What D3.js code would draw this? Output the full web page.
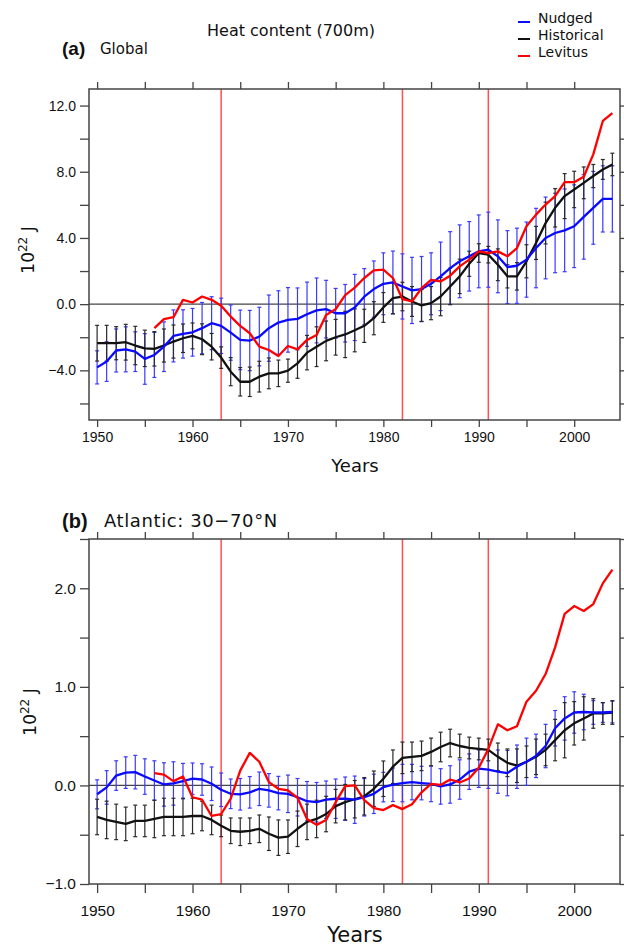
<!DOCTYPE html>
<html>
<head>
<meta charset="utf-8">
<script src="https://cdn.jsdelivr.net/npm/d3@7"></script>
<style>
  body { margin: 0; background: #fff; }
  text { font-family: "DejaVu Sans", sans-serif; fill: #111; }
  .tick text { font-family: "Liberation Sans", Arial, sans-serif; fill: #111; }
</style>
</head>
<body>
<svg id="chart" width="624" height="948"></svg>
<script>
// years of the model runs and of the Levitus observations
var years = d3.range(1950, 2005);
var levYears = d3.range(1956, 2005);
// volcanic eruptions (Agung, El Chichon, Pinatubo)
var eruptions = [1963, 1982, 1991];

// (a) Global, 10^22 J
var nudgedA = [-3.82, -3.47, -2.8, -2.73, -2.87, -3.31, -3.07, -2.57, -1.92, -1.8,
  -1.7, -1.45, -1.15, -1.31, -1.72, -2.16, -2.2, -1.96, -1.45, -1.11,
  -0.95, -0.89, -0.61, -0.38, -0.3, -0.55, -0.55, -0.2, 0.45, 0.91,
  1.23, 1.31, 1.07, 0.83, 0.91, 1.23, 1.68, 2.18, 2.59, 2.89,
  3.19, 3.29, 2.89, 2.24, 2.32, 2.69, 3.39, 4.0, 4.3, 4.46,
  4.71, 5.27, 5.82, 6.36, 6.36];
var nudgedErrA = [1.0, 1.2, 1.3, 1.36, 1.2, 1.53, 1.36, 1.5, 1.57, 1.46,
  1.44, 1.55, 1.6, 1.67, 1.67, 1.8, 1.82, 1.77, 2.0, 1.92,
  1.95, 1.87, 1.94, 1.96, 1.74, 1.5, 1.74, 2.0, 1.7, 1.7,
  1.87, 1.9, 1.97, 2.0, 1.97, 1.87, 2.07, 2.2, 2.2, 2.1,
  2.2, 2.27, 2.2, 2.2, 2.27, 2.27, 2.4, 2.47, 2.4, 2.5,
  2.5, 2.55, 2.2, 2.0, 2.0];
var histA = [-2.36, -2.36, -2.36, -2.3, -2.5, -2.67, -2.7, -2.5, -2.26, -2.06,
  -1.92, -2.12, -2.57, -3.23, -4.08, -4.69, -4.69, -4.38, -4.18, -4.18,
  -4.02, -3.58, -2.93, -2.57, -2.22, -2.0, -1.83, -1.58, -1.31, -0.85,
  -0.2, 0.36, 0.46, 0.16, -0.08, 0.06, 0.46, 1.07, 1.68, 2.44,
  3.09, 2.99, 2.38, 1.68, 1.68, 2.59, 3.7, 4.9, 5.82, 6.53,
  6.93, 7.33, 7.74, 8.14, 8.44];
var histErrA = [1.08, 1.08, 1.0, 1.08, 1.16, 1.1, 1.04, 1.0, 1.0, 0.86,
  0.78, 0.93, 0.8, 0.65, 0.85, 0.86, 0.89, 0.93, 0.93, 0.8,
  0.7, 0.9, 1.04, 1.2, 1.2, 1.08, 1.4, 1.3, 1.0, 1.0,
  0.9, 0.94, 0.86, 0.9, 0.96, 1.0, 1.16, 1.1, 1.04, 0.76,
  0.56, 0.5, 0.96, 0.7, 0.83, 1.0, 1.0, 1.26, 1.16, 1.36,
  1.1, 0.96, 0.7, 0.6, 0.68];
var levA = [-1.45, -0.91, -0.79, 0.26,
  0.1, 0.46, 0.26, -0.1, -0.75, -1.31, -1.76, -2.57, -2.77, -3.13,
  -2.53, -2.73, -2.16, -1.86, -0.65, -0.3, 0.55, 1.0, 1.58, 2.04,
  2.08, 1.58, 0.3, 0.16, 0.97, 1.47, 1.37, 1.72, 2.28, 2.69,
  3.19, 3.09, 3.19, 2.89, 3.39, 4.71, 5.41, 6.02, 6.53, 7.37,
  7.37, 7.7, 9.05, 11.07, 11.54];

// (b) Atlantic 30-70N, 10^22 J
var nudgedB = [-0.09, -0.02, 0.1, 0.13, 0.135, 0.09, 0.05, 0.01, 0.02, 0.044,
  0.068, 0.06, 0.017, -0.044, -0.085, -0.09, -0.07, -0.034, -0.05, -0.078,
  -0.085, -0.12, -0.16, -0.17, -0.145, -0.135, -0.135, -0.145, -0.12, -0.085,
  -0.017, 0.007, 0.024, 0.034, 0.024, 0.015, -0.01, 0.01, 0.06, 0.14,
  0.17, 0.16, 0.14, 0.125, 0.19, 0.24, 0.3, 0.4, 0.58, 0.68,
  0.74, 0.745, 0.74, 0.74, 0.745];
var nudgedErrB = [0.147, 0.17, 0.15, 0.16, 0.17, 0.18, 0.2, 0.22, 0.22, 0.18,
  0.16, 0.16, 0.17, 0.17, 0.15, 0.16, 0.16, 0.17, 0.17, 0.17,
  0.19, 0.19, 0.2, 0.2, 0.19, 0.2, 0.22, 0.24, 0.19, 0.2,
  0.15, 0.17, 0.19, 0.18, 0.17, 0.18, 0.18, 0.19, 0.2, 0.18,
  0.19, 0.19, 0.22, 0.23, 0.22, 0.24, 0.22, 0.22, 0.18, 0.22,
  0.21, 0.18, 0.12, 0.1, 0.11];
var histB = [-0.32, -0.35, -0.37, -0.39, -0.36, -0.36, -0.34, -0.32, -0.32, -0.32,
  -0.31, -0.31, -0.35, -0.41, -0.46, -0.47, -0.46, -0.44, -0.49, -0.53,
  -0.52, -0.44, -0.37, -0.34, -0.29, -0.21, -0.17, -0.14, -0.11, -0.034,
  0.068, 0.19, 0.28, 0.29, 0.3, 0.34, 0.39, 0.43, 0.4, 0.38,
  0.37, 0.36, 0.29, 0.23, 0.2, 0.24, 0.29, 0.36, 0.46, 0.56,
  0.63, 0.68, 0.73, 0.73, 0.74];
var histErrB = [0.18, 0.19, 0.18, 0.17, 0.16, 0.16, 0.19, 0.19, 0.19, 0.19,
  0.18, 0.15, 0.15, 0.11, 0.13, 0.14, 0.13, 0.14, 0.17, 0.18,
  0.17, 0.18, 0.18, 0.19, 0.18, 0.17, 0.18, 0.19, 0.19, 0.18,
  0.18, 0.17, 0.16, 0.15, 0.15, 0.14, 0.15, 0.14, 0.12, 0.11,
  0.11, 0.11, 0.14, 0.14, 0.17, 0.16, 0.18, 0.16, 0.21, 0.28,
  0.22, 0.22, 0.15, 0.11, 0.12];
var levB = [0.125, 0.11, 0.044, 0.09,
  -0.12, -0.145, -0.31, -0.29, -0.135, 0.15, 0.33, 0.24, 0.034, -0.034,
  -0.05, -0.125, -0.34, -0.4, -0.35, -0.17, -0.007, 0.0, -0.15, -0.23,
  -0.25, -0.2, -0.24, -0.19, -0.07, 0.015, 0.005, 0.06, 0.03, 0.07,
  0.18, 0.37, 0.62, 0.56, 0.6, 0.85, 0.96, 1.13, 1.4, 1.74,
  1.82, 1.77, 1.84, 2.05, 2.19];

var xTicks = d3.range(1950, 2001, 5);
var xLabels = [1950, 1960, 1970, 1980, 1990, 2000];

var legendNames = ["Nudged", "Historical", "Levitus"];
var legendColors = ["#0a0aff", "#111", "#ff0000"];

var svg = d3.select("#chart");
var fmt = d3.format(".1f");

function drawPanel(p) {
  var x = d3.scaleLinear().domain([1949.15, 2004.8]).range([p.left, p.right]);
  var y = d3.scaleLinear().domain(p.yDomain).range([p.bottom, p.top]);
  var g = svg.append("g");

  g.selectAll("line.erupt")
    .data(eruptions)
    .enter()
    .append("line")
    .attr("class", "erupt")
    .attr("x1", function (d) { return x(d); })
    .attr("x2", function (d) { return x(d); })
    .attr("y1", p.top)
    .attr("y2", p.bottom)
    .attr("stroke", "#ff5050")
    .attr("stroke-width", 1.5);

  g.append("line")
    .attr("x1", p.left).attr("x2", p.right)
    .attr("y1", y(0)).attr("y2", y(0))
    .attr("stroke", "#444")
    .attr("stroke-width", 1.3);

  function errBars(vals, errs, color) {
    var bars = g.append("g")
      .selectAll("g")
      .data(vals)
      .enter()
      .append("g")
      .attr("stroke", color)
      .attr("stroke-width", 1.2);
    bars.append("line")
      .attr("x1", function (d, i) { return x(years[i]); })
      .attr("x2", function (d, i) { return x(years[i]); })
      .attr("y1", function (d, i) { return y(d - errs[i]); })
      .attr("y2", function (d, i) { return y(d + errs[i]); });
    [-1, 1].forEach(function (s) {
      bars.append("line")
        .attr("x1", function (d, i) { return x(years[i]) - 2; })
        .attr("x2", function (d, i) { return x(years[i]) + 2; })
        .attr("y1", function (d, i) { return y(d + s * errs[i]); })
        .attr("y2", function (d, i) { return y(d + s * errs[i]); });
    });
  }
  errBars(p.nudged, p.nudgedErr, "#3a3aff");
  errBars(p.hist, p.histErr, "#2a2a2a");

  function series(xs, vals, color) {
    var line = d3.line()
      .x(function (d, i) { return x(xs[i]); })
      .y(function (d) { return y(d); });
    g.append("path")
      .datum(vals)
      .attr("d", line)
      .attr("fill", "none")
      .attr("stroke", color)
      .attr("stroke-width", 2.3)
      .attr("stroke-linejoin", "round");
  }
  series(years, p.hist, legendColors[1]);
  series(years, p.nudged, legendColors[0]);
  series(levYears, p.lev, legendColors[2]);

  g.append("rect")
    .attr("x", p.left).attr("y", p.top)
    .attr("width", p.right - p.left).attr("height", p.bottom - p.top)
    .attr("fill", "none")
    .attr("stroke", "#444")
    .attr("stroke-width", 1.5);

  function styleAxis(sel, size) {
    sel.select(".domain").remove();
    sel.selectAll(".tick line").attr("stroke", "#444").attr("stroke-width", 1.3);
    sel.selectAll(".tick text").style("font-size", size + "px");
  }

  var left = g.append("g")
    .attr("transform", "translate(" + p.left + ",0)")
    .call(d3.axisLeft(y).tickValues(p.yTicks).tickSize(9).tickPadding(4)
      .tickFormat(function (d) { return p.yLabels.indexOf(d) >= 0 ? fmt(d) : ""; }));
  styleAxis(left, p.tickFont);

  var right = g.append("g")
    .attr("transform", "translate(" + p.right + ",0)")
    .call(d3.axisRight(y).tickValues(p.yTicks).tickSize(5).tickFormat(""));
  styleAxis(right, p.tickFont);

  var bottom = g.append("g")
    .attr("transform", "translate(0," + p.bottom + ")")
    .call(d3.axisBottom(x).tickValues(xTicks).tickSize(p.xTickLen).tickPadding(p.xPad)
      .tickFormat(function (d) { return xLabels.indexOf(d) >= 0 ? d : ""; }));
  styleAxis(bottom, p.tickFont);

  var top = g.append("g")
    .attr("transform", "translate(0," + p.top + ")")
    .call(d3.axisTop(x).tickValues(xTicks).tickSize(7).tickFormat(""));
  styleAxis(top, p.tickFont);

  g.append("text")
    .attr("x", 355).attr("y", p.yearsY)
    .attr("text-anchor", "middle")
    .style("font-size", p.yearsFont + "px")
    .text("Years");

  var yl = g.append("text")
    .attr("transform", "translate(" + p.ylabX + "," + p.ylabY + ") rotate(-90)")
    .attr("text-anchor", "middle")
    .style("font-size", "17px");
  yl.append("tspan").text("10");
  yl.append("tspan").attr("dy", -7).style("font-size", "12px").text("22");
  yl.append("tspan").attr("dy", 7).text(" J");
}

drawPanel({
  left: 89, right: 620, top: 89, bottom: 420,
  yDomain: [-7, 13],
  yTicks: d3.range(-6, 13, 2),
  yLabels: [-4, 0, 4, 8, 12],
  nudged: nudgedA, nudgedErr: nudgedErrA,
  hist: histA, histErr: histErrA, lev: levA,
  tickFont: 14, xTickLen: 7, xPad: 5, yearsY: 472, yearsFont: 18,
  ylabX: 34, ylabY: 250
});

drawPanel({
  left: 89, right: 620, top: 539, bottom: 884,
  yDomain: [-1, 2.5],
  yTicks: d3.range(-1, 2.51, 0.5),
  yLabels: [-1, 0, 1, 2],
  nudged: nudgedB, nudgedErr: nudgedErrB,
  hist: histB, histErr: histErrB, lev: levB,
  tickFont: 15.5, xTickLen: 9, xPad: 12, yearsY: 942, yearsFont: 21,
  ylabX: 36, ylabY: 712
});

// titles and panel labels
svg.append("text")
  .attr("x", 291).attr("y", 36)
  .attr("text-anchor", "middle")
  .style("font-size", "16px")
  .text("Heat content (700m)");

svg.append("text")
  .attr("x", 62).attr("y", 55)
  .style("font-family", "'Liberation Sans', Arial, sans-serif")
  .style("font-weight", "bold")
  .style("font-size", "19px")
  .text("(a)");
svg.append("text")
  .attr("x", 100).attr("y", 54)
  .style("font-size", "15px")
  .text("Global");

svg.append("text")
  .attr("x", 62).attr("y", 528)
  .style("font-family", "'Liberation Sans', Arial, sans-serif")
  .style("font-weight", "bold")
  .style("font-size", "20px")
  .text("(b)");
svg.append("text")
  .attr("x", 104).attr("y", 527)
  .style("font-size", "18px")
  .style("letter-spacing", "0.6px")
  .text("Atlantic:  30\u221270\u00b0N");

// legend
var legend = svg.append("g")
  .selectAll("g")
  .data(legendNames)
  .enter()
  .append("g")
  .attr("transform", function (d, i) { return "translate(518," + (23 + i * 17) + ")"; });
legend.append("line")
  .attr("x1", 0).attr("x2", 12)
  .attr("y1", -1).attr("y2", -1)
  .attr("stroke", function (d, i) { return legendColors[i]; })
  .attr("stroke-width", 2);
legend.append("text")
  .attr("x", 20)
  .style("font-size", "14px")
  .text(function (d) { return d; });
</script>
</body>
</html>
